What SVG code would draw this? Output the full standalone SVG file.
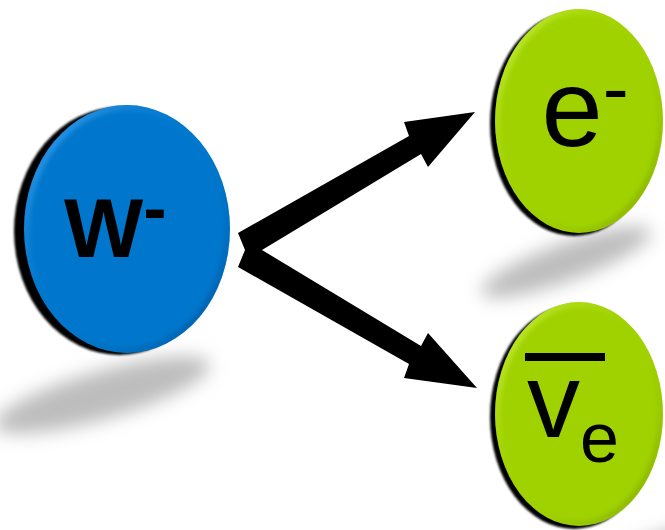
<svg xmlns="http://www.w3.org/2000/svg" width="665" height="530" viewBox="0 0 665 530">
  <defs>
    <style>
      .lbl { font-family: "Liberation Sans", Arial, sans-serif; fill: #000; }
      .shadow { fill: #bdbdbd; filter: url(#blurBig); }
      .rim { fill: #000; filter: url(#blurSm); }
      .arrow { fill: #000; }
    </style>
    <filter id="blurBig" x="-50%" y="-100%" width="200%" height="300%">
      <feGaussianBlur stdDeviation="9"/>
    </filter>
    <filter id="blurSm" x="-10%" y="-10%" width="120%" height="120%">
      <feGaussianBlur stdDeviation="1.2"/>
    </filter>
    <filter id="blurBevel" x="-10%" y="-10%" width="120%" height="120%">
      <feGaussianBlur stdDeviation="2.5"/>
    </filter>
    <linearGradient id="bevelBlue" x1="0" y1="0" x2="1" y2="1">
      <stop offset="0" stop-color="#5ab4ff" stop-opacity="0.9"/>
      <stop offset="0.5" stop-color="#0077cc" stop-opacity="0"/>
      <stop offset="1" stop-color="#003f80" stop-opacity="0.7"/>
    </linearGradient>
    <linearGradient id="bevelGreen" x1="0" y1="0" x2="1" y2="1">
      <stop offset="0" stop-color="#e0ff60" stop-opacity="0.9"/>
      <stop offset="0.5" stop-color="#a0d200" stop-opacity="0"/>
      <stop offset="1" stop-color="#5a7a00" stop-opacity="0.6"/>
    </linearGradient>
    <clipPath id="clipBlue"><ellipse cx="127" cy="229" rx="103" ry="124"/></clipPath>
    <clipPath id="clipG1"><ellipse cx="579" cy="121" rx="84" ry="112"/></clipPath>
    <clipPath id="clipG2"><ellipse cx="579" cy="414" rx="84" ry="112"/></clipPath>
  </defs>

  <rect width="665" height="530" fill="#fff"/>

  <!-- shadows -->
  <ellipse class="shadow" cx="102" cy="395" rx="112" ry="24" transform="rotate(-16 102 395)"/>
  <ellipse class="shadow" cx="566" cy="262" rx="90" ry="19" transform="rotate(-20 566 262)"/>
  <ellipse class="shadow" cx="655" cy="556" rx="90" ry="19" transform="rotate(-20 655 556)"/>

  <!-- connectors -->
  <g id="connectors">
    <polygon class="arrow" points="245,250 238,233 409,136 404,122 475,112 428,167 421,154 262,250"/>
    <polygon class="arrow" points="245,250 238,267 409,364 404,378 477,388 428,333 421,346 262,250"/>
  </g>

  <!-- W- node -->
  <g id="node-w">
    <ellipse class="rim" cx="119" cy="231" rx="105" ry="124"/>
    <ellipse cx="127" cy="229" rx="103" ry="124" fill="#0077cc"/>
    <g clip-path="url(#clipBlue)">
      <ellipse cx="127" cy="229" rx="101" ry="122" fill="none" stroke="url(#bevelBlue)" stroke-width="7" filter="url(#blurBevel)"/>
    </g>
    <text class="lbl" x="64" y="257" font-size="84" font-weight="bold">W<tspan font-size="70" dy="-25">-</tspan></text>
  </g>

  <!-- e- node -->
  <g id="node-electron">
    <ellipse class="rim" cx="574" cy="124" rx="84" ry="112"/>
    <ellipse cx="579" cy="121" rx="84" ry="112" fill="#a0d200"/>
    <g clip-path="url(#clipG1)">
      <ellipse cx="579" cy="121" rx="82" ry="110" fill="none" stroke="url(#bevelGreen)" stroke-width="6" filter="url(#blurBevel)"/>
    </g>
    <text class="lbl" x="541.5" y="146" font-size="110">e<tspan font-size="78" dy="-31">-</tspan></text>
  </g>

  <!-- anti-neutrino node -->
  <g id="node-antineutrino">
    <ellipse class="rim" cx="574" cy="417" rx="84" ry="112"/>
    <ellipse cx="579" cy="414" rx="84" ry="112" fill="#a0d200"/>
    <g clip-path="url(#clipG2)">
      <ellipse cx="579" cy="414" rx="82" ry="110" fill="none" stroke="url(#bevelGreen)" stroke-width="6" filter="url(#blurBevel)"/>
    </g>
    <rect x="525" y="353" width="80" height="8" fill="#000"/>
    <text class="lbl" x="527" y="437" font-size="106">v<tspan font-size="70" dy="25">e</tspan></text>
  </g>
</svg>
